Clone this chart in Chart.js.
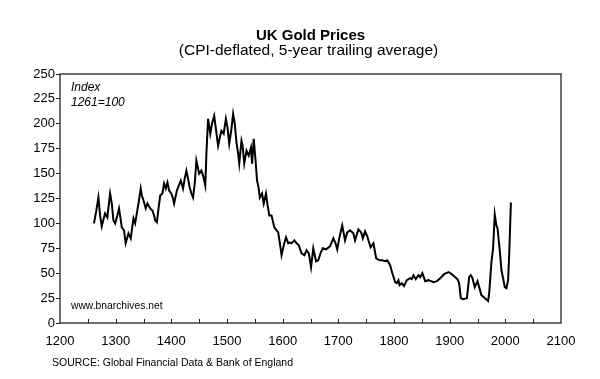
<!DOCTYPE html>
<html>
<head>
<meta charset="utf-8">
<script src="https://cdn.jsdelivr.net/npm/chart.js@4/dist/chart.umd.min.js"></script>
<style>
  html, body { margin: 0; padding: 0; background: #ffffff; }
  #wrap { width: 600px; height: 379px; position: relative; }
</style>
</head>
<body>
<div id="wrap"><canvas id="c" width="600" height="379"></canvas></div>
<script>
const titleText = "UK Gold Prices";
const subtitleText = "(CPI-deflated, 5-year trailing average)";
const sourceText = "SOURCE: Global Financial Data & Bank of England";
const siteText = "www.bnarchives.net";
const indexLabel = ["Index", "1261=100"];

const xTickStart = 1200;
const xTickEnd = 2100;
const yTickValues = [0, 25, 50, 75, 100, 125, 150, 175, 200, 225, 250];

const years = [1261,1265,1269,1272,1275,1278,1281,1285,1290,1293,1296,1299,1303,1306,1309,1311,1315,1318,1321,1323,1327,1330,1332,1335,1338,1341,1345,1347,1350,1354,1357,1359,1362,1366,1369,1371,1374,1377,1380,1384,1387,1390,1393,1396,1400,1403,1405,1408,1410,1412,1417,1421,1424,1427,1430,1433,1436,1439,1442,1445,1448,1450,1454,1457,1461,1463,1466,1470,1473,1477,1481,1484,1487,1490,1494,1498,1501,1504,1508,1511,1514,1517,1520,1522,1526,1528,1531,1535,1539,1543,1545,1548,1551,1554,1557,1559,1563,1566,1570,1573,1576,1580,1585,1589,1592,1595,1598,1602,1606,1610,1613,1616,1621,1625,1629,1634,1639,1643,1647,1651,1655,1660,1664,1668,1672,1678,1685,1691,1695,1698,1702,1707,1712,1716,1721,1727,1730,1736,1741,1744,1748,1752,1754,1758,1763,1768,1774,1779,1784,1788,1793,1797,1800,1802,1805,1808,1810,1814,1818,1823,1829,1832,1835,1839,1844,1847,1851,1856,1862,1871,1877,1883,1890,1898,1904,1910,1914,1917,1920,1924,1931,1935,1938,1941,1945,1950,1953,1957,1963,1969,1971,1975,1978,1981,1984,1986,1990,1993,1996,1999,2002,2005,2007,2010];
const goldIndex = [100,112,126,108,97,104,110,106,130,120,103,100,108,115,104,96,93,80,86,90,85,97,105,100,110,120,135,128,123,115,120,118,115,113,108,103,101,115,128,130,140,135,141,133,130,125,120,128,133,136,143,135,145,153,145,136,130,126,140,163,155,150,153,148,138,170,205,190,200,208,191,178,186,193,190,205,196,180,195,210,200,181,170,160,183,178,160,173,168,176,160,185,165,143,135,126,130,120,130,118,108,108,96,93,91,80,68,78,86,80,81,80,83,80,78,70,68,73,70,56,75,62,63,70,75,74,77,85,80,74,86,98,83,91,93,90,83,94,91,85,92,87,83,76,80,65,63,63,62,63,58,50,45,41,40,43,38,40,37,43,45,44,48,44,48,46,50,42,43,41,42,45,49,51,49,46,44,40,25,24,25,46,48,45,36,42,36,28,25,22,30,61,75,109,98,95,73,53,45,36,35,43,70,121];

const points = years.map((y, i) => ({ x: y, y: goldIndex[i] }));

const FONT = "'Liberation Sans', Arial, Helvetica, sans-serif";
const AREA = { left: 60, right: 561, top: 74, bottom: 323 };

const decor = {
  id: 'decor',
  beforeDatasetsDraw(chart) {
    const ctx = chart.ctx;
    const ca = chart.chartArea;
    const xs = chart.scales.x;
    ctx.save();
    ctx.strokeStyle = '#222';
    ctx.lineWidth = 1;
    for (let v = xTickStart + 50; v < xTickEnd; v += 50) {
      const px = Math.round(xs.getPixelForValue(v)) + 0.5;
      ctx.beginPath();
      ctx.moveTo(px, ca.bottom);
      ctx.lineTo(px, ca.bottom - 4);
      ctx.stroke();
    }
    ctx.restore();
  },
  afterDraw(chart) {
    const ctx = chart.ctx;
    const ca = chart.chartArea;
    ctx.save();
    ctx.strokeStyle = '#222';
    ctx.lineWidth = 1.3;
    ctx.strokeRect(ca.left, ca.top, ca.right - ca.left, ca.bottom - ca.top);
    const cx = (ca.left + ca.right) / 2;
    ctx.fillStyle = '#000';
    ctx.textAlign = 'center';
    ctx.textBaseline = 'alphabetic';
    ctx.font = 'bold 15px ' + FONT;
    ctx.fillText(titleText, cx, 40);
    ctx.font = '15.5px ' + FONT;
    ctx.fillText(subtitleText, cx - 2, 54.5);
    ctx.textAlign = 'left';
    ctx.font = 'italic 12px ' + FONT;
    ctx.fillText(indexLabel[0], 71, 91);
    ctx.fillText(indexLabel[1], 71, 106);
    ctx.font = '10.3px ' + FONT;
    ctx.fillText(siteText, 71, 309);
    ctx.font = '10.5px ' + FONT;
    ctx.fillText(sourceText, 52, 366);
    ctx.restore();
  }
};

new Chart(document.getElementById('c'), {
  type: 'line',
  data: {
    datasets: [{
      data: points,
      borderColor: '#000',
      borderWidth: 2,
      pointRadius: 0,
      tension: 0,
      fill: false
    }]
  },
  options: {
    responsive: false,
    animation: false,
    devicePixelRatio: 1,
    layout: { padding: { left: 0, top: AREA.top, right: 600 - AREA.right, bottom: 0 } },
    plugins: {
      legend: { display: false },
      tooltip: { enabled: false },
      title: { display: false }
    },
    scales: {
      x: {
        type: 'linear',
        min: xTickStart,
        max: xTickEnd,
        border: { display: false },
        grid: { display: false, drawTicks: false },
        ticks: {
          stepSize: 100,
          color: '#000',
          padding: 11,
          maxRotation: 0,
          font: { family: FONT, size: 13 },
          callback: (v) => String(v)
        },
        afterFit(scale) { scale.height = 379 - AREA.bottom; }
      },
      y: {
        min: 0,
        max: 250,
        border: { display: false },
        grid: { drawOnChartArea: false, drawTicks: true, tickLength: 4, color: '#222', lineWidth: 1 },
        afterBuildTicks(scale) { scale.ticks = yTickValues.map(v => ({ value: v })); },
        ticks: {
          color: '#000',
          padding: 1,
          font: { family: FONT, size: 13 },
          callback: (v) => String(v)
        },
        afterFit(scale) { scale.width = AREA.left; }
      }
    }
  },
  plugins: [decor]
});
</script>
</body>
</html>
